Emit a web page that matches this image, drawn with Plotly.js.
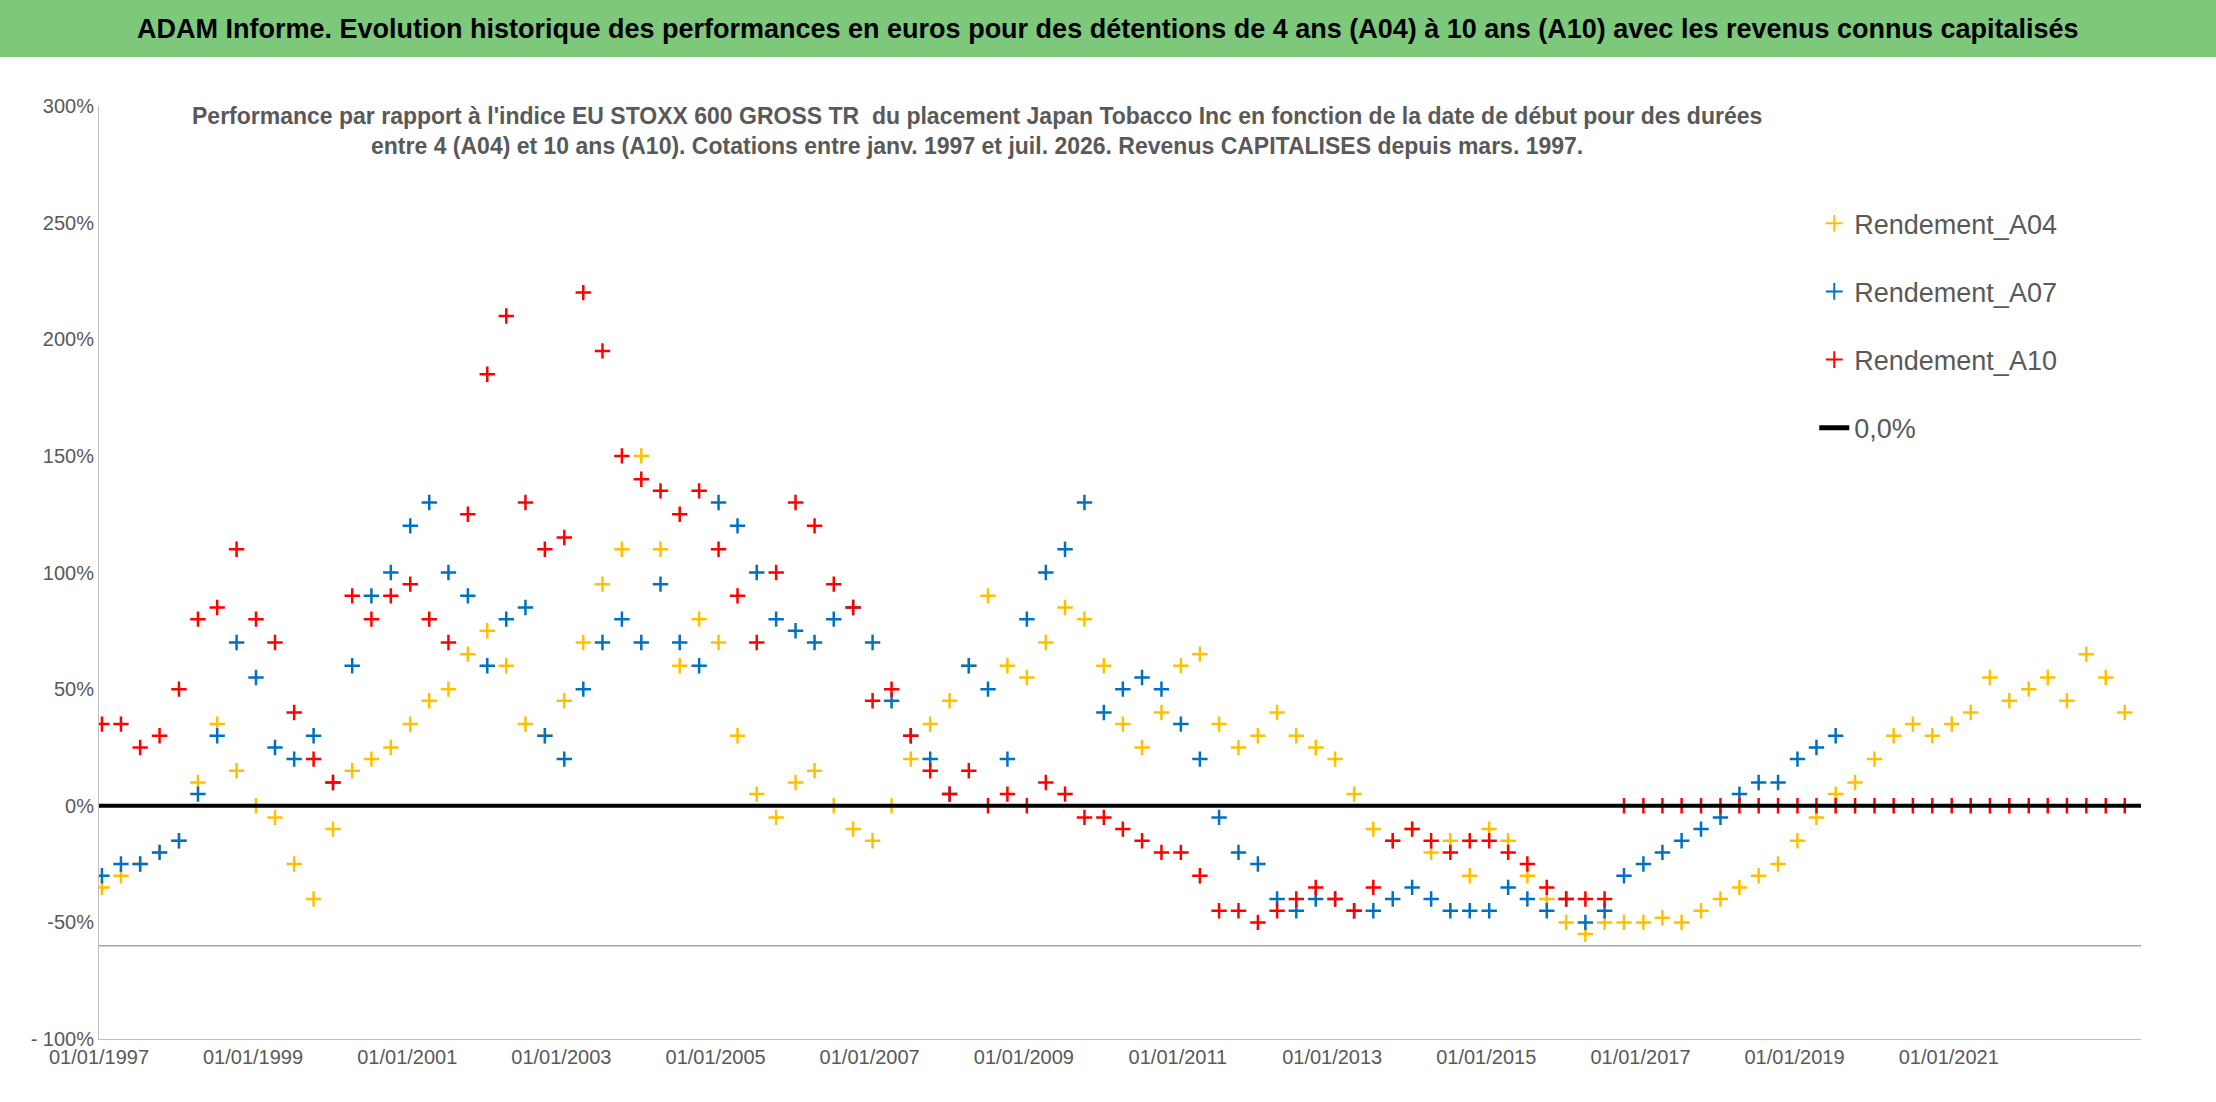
<!DOCTYPE html>
<html><head><meta charset="utf-8">
<script src="https://cdn.plot.ly/plotly-3.0.1.min.js"></script>
<style>body{margin:0;background:#fff}#c{width:2216px;height:1102px}</style>
</head><body><div id="c"></div>
<script>
// quarterly observations, first quarter = Jan 1997
const startYear = 1997;
const rendA04 = [-35,-30,-25,-20,-15,10,35,15,0,-5,-25,-40,-10,15,20,25,35,45,50,65,75,60,35,30,45,70,95,110,150,110,60,80,70,30,5,-5,10,15,0,-10,-15,0,20,35,45,60,90,60,55,70,85,80,60,35,25,40,60,65,35,25,30,40,30,25,20,5,-10,-15,-10,-20,-15,-30,-10,-15,-30,-40,-50,-55,-50,-50,-50,-48,-50,-45,-40,-35,-30,-25,-15,-5,5,10,20,30,35,30,35,40,55,45,50,55,45,65,55,40];
const rendA07 = [-30,-25,-25,-20,-15,5,30,70,55,25,20,30,10,60,90,100,120,130,100,90,60,80,85,30,20,50,70,80,70,95,70,60,130,120,100,80,75,70,80,85,70,45,30,20,5,60,50,20,80,100,110,130,40,50,55,50,35,20,-5,-20,-25,-40,-45,-40,-40,-45,-45,-40,-35,-40,-45,-45,-45,-35,-40,-45,-40,-50,-45,-30,-25,-20,-15,-10,-5,5,10,10,20,25,30];
const rendA10 = [35,35,25,30,50,80,85,110,80,70,40,20,10,90,80,90,95,80,70,125,185,210,130,110,115,220,195,150,140,135,125,135,110,90,70,100,130,120,95,85,45,50,30,15,5,15,0,5,0,10,5,-5,-5,-10,-15,-20,-20,-30,-45,-45,-50,-45,-40,-35,-40,-45,-35,-15,-10,-15,-20,-15,-15,-20,-25,-35,-40,-40,-40,0,0,0,0,0,0,0,0,0,0,0,0,0,0,0,0,0,0,0,0,0,0,0,0,0,0,0];
const yTickVals = [-100,-50,0,50,100,150,200,250,300];
const yTickText = ['- 100%','-50%','0%','50%','100%','150%','200%','250%','300%'];
const xTickYears = [1997,1999,2001,2003,2005,2007,2009,2011,2013,2015,2017,2019,2021];

function qdates(n){const d=[];for(let i=0;i<n;i++){const y=startYear+Math.floor(i/4);const m=(i%4)*3+1;d.push(y+'-'+String(m).padStart(2,'0')+'-15');}return d;}
const mk = c => ({symbol:'cross-thin-open',size:11,color:c,line:{color:c,width:2.5}});
const font = '"Liberation Sans Narrow","Liberation Sans",Arial,sans-serif';
const traces = [
 {x:qdates(rendA04.length),y:rendA04,mode:'markers',name:'Rendement_A04',legendgroup:'a',marker:mk('#FFC000')},
 {x:qdates(rendA07.length),y:rendA07,mode:'markers',name:'Rendement_A07',legendgroup:'b',marker:mk('#0070C0')},
 {x:qdates(rendA10.length),y:rendA10,mode:'markers',name:'Rendement_A10',legendgroup:'c',marker:mk('#FF0000')},
 {x:['1997-01-01','2023-07-01'],y:[0,0],mode:'lines',name:'0,0%',legendgroup:'d',line:{color:'#000',width:4}}
];
const layout = {
 width:2216,height:1102,paper_bgcolor:'#fff',plot_bgcolor:'#fff',
 margin:{l:99,r:75,t:106,b:63},
 font:{family:font,color:'#595959'},
 xaxis:{type:'date',range:['1997-01-01','2023-07-01'],tickvals:xTickYears.map(y=>y+'-01-01'),ticktext:xTickYears.map(y=>'01/01/'+y),
   showgrid:false,showline:true,linecolor:'#bfbfbf',tickfont:{size:20,color:'#595959'},ticks:'',zeroline:false},
 yaxis:{range:[-100,300],tickvals:yTickVals,ticktext:yTickText,showgrid:false,zeroline:false,showline:true,linecolor:'#bfbfbf',tickfont:{size:20,color:'#595959'},ticks:''},
 legend:{x:0.84,y:0.9,xanchor:'left',yanchor:'top',bgcolor:'#fff',font:{size:27,color:'#595959'},itemsizing:'constant',tracegroupgap:30,traceorder:'grouped'},
 shapes:[
  {type:'rect',xref:'paper',yref:'paper',x0:-0.05,x1:1.04,y0:1.0525,y1:1.1136,fillcolor:'#7DC87A',line:{width:0},layer:'below'},
  {type:'line',xref:'paper',yref:'y',x0:0,x1:1,y0:-60,y1:-60,line:{color:'#a6a6a6',width:1.5}}
 ],
 annotations:[
  {xref:'paper',yref:'paper',x:0.494,y:1.083,yanchor:'middle',showarrow:false,text:'<b>ADAM Informe. Evolution historique des performances en euros pour des détentions de 4 ans (A04) à 10 ans (A10) avec les revenus connus capitalisés</b>',font:{size:27,color:'#000'}},
  {xref:'paper',yref:'paper',x:0.43,y:1.005,yanchor:'top',showarrow:false,text:"<b>Performance par rapport à l'indice EU STOXX 600 GROSS TR  du placement Japan Tobacco Inc en fonction de la date de début pour des durées<br>entre 4 (A04) et 10 ans (A10). Cotations entre janv. 1997 et juil. 2026. Revenus CAPITALISES depuis mars. 1997.</b>",font:{size:23,color:'#595959'},align:'center'}
 ]
};
Plotly.newPlot('c',traces,layout,{displayModeBar:false});
</script></body></html>
